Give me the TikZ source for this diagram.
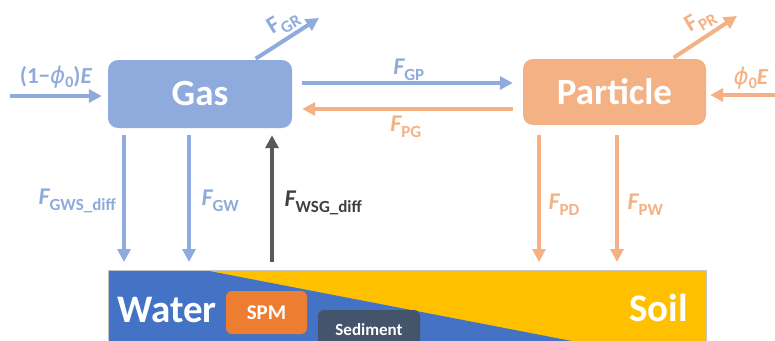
\documentclass[tikz,border=0pt]{standalone}
\usepackage{fontspec}
\setmainfont{Carlito}
\newfontfamily\phifont{DejaVu Sans}
\usetikzlibrary{arrows.meta,calc}

\definecolor{gasblue}{HTML}{8FAADC}
\definecolor{partorange}{HTML}{F4B183}
\definecolor{darkflux}{HTML}{595959}
\definecolor{darklabel}{HTML}{404040}
\definecolor{waterblue}{HTML}{4472C4}
\definecolor{soilyellow}{HTML}{FFC000}
\definecolor{spmorange}{HTML}{ED7D31}
\definecolor{sedslate}{HTML}{44546A}

% flux label: italic F with a lowered upright subscript
\newcommand\flx[3][\itshape]{{\fontsize{24}{26}\selectfont#1 #2}\raisebox{-6pt}{\fontsize{17}{19}\selectfont #3}}
\newcommand\phisym{{\phifont\mdseries\itshape ϕ}}

\tikzset{
  compbox/.style={rectangle, rounded corners=10pt, text=white, font=\bfseries\fontsize{37}{40}\selectfont, inner sep=0pt},
  flow/.style={line width=4pt, -{Triangle[length=13pt,width=13pt]}},
  lbl/.style={font=\bfseries, inner sep=1pt},
}

\begin{document}
\begin{tikzpicture}[x=1pt,y=-1pt]
\useasboundingbox (0,0) rectangle (775,340);
\clip (0,0) rectangle (775,340);

% compartments
\node[compbox, fill=gasblue, minimum width=184pt, minimum height=68pt] (gas) at (200,94) {Gas};
\node[compbox, fill=partorange, minimum width=183pt, minimum height=66pt] (part) at (614.5,92) {Particle};

% surface strip: soil over the whole width, water wedge on the left
\node[fill=soilyellow, minimum width=598pt, minimum height=72pt, inner sep=0pt, outer sep=0pt] (strip) at (407,306) {};
\fill[waterblue] (strip.north west) -- ($(strip.north west)+(96,0)$) -- ($(strip.south west)+(469,0)$) -- (strip.south west) -- cycle;
\draw[gray!45, line width=0.6pt] (strip.south west) rectangle (strip.north east);

\node[anchor=base west, text=white, font=\bfseries\fontsize{39}{41}\selectfont, inner sep=0pt] (water) at (117,322) {Water};
\node[anchor=base east, text=white, font=\bfseries\fontsize{39}{41}\selectfont, inner sep=0pt] (soil) at (688,321) {Soil};
\node[rectangle, rounded corners=6pt, fill=spmorange, text=white, font=\bfseries\fontsize{21}{23}\selectfont, minimum width=81pt, minimum height=43pt, inner sep=0pt] (spm) at (266.5,312.5) {SPM};
\node[rectangle, rounded corners=6pt, fill=sedslate, text=white, font=\bfseries\fontsize{17}{19}\selectfont, minimum width=102pt, minimum height=40pt, inner sep=0pt] (sed) at (369,330) {Sediment};

% x and y positions of the fluxes
\coordinate (xgws) at (124,0);
\coordinate (xgw)  at (189,0);
\coordinate (xwsg) at (272,0);
\coordinate (xpd)  at (539,0);
\coordinate (xpw)  at (617,0);
\coordinate (xgr)  at (254,0);
\coordinate (xpr)  at (672,0);
\coordinate (ygp)  at (0,83);
\coordinate (ypg)  at (0,109);
\coordinate (ein)  at (10,96);
\coordinate (pin)  at (777,95);
\coordinate (gr)   at (319,18);
\coordinate (pr)   at (737,16);

% emissions
\draw[flow, gasblue, shorten >=6pt] (ein) -- (gas.west |- ein);
\draw[flow, partorange, shorten >=4pt] (pin) -- (part.east |- pin);

% removal
\draw[flow, gasblue, shorten <=2pt] (gas.north -| xgr) -- (gr);
\draw[flow, partorange, shorten <=2pt] (part.north -| xpr) -- (pr);

% gas <-> particle partitioning
\draw[flow, gasblue, shorten <=10pt, shorten >=10pt] (gas.east |- ygp) -- (part.west |- ygp);
\draw[flow, partorange, shorten <=10pt, shorten >=10pt] (part.west |- ypg) -- (gas.east |- ypg);

% exchange with the surface
\draw[flow, gasblue, shorten <=7pt, shorten >=8pt] (gas.south -| xgws) -- (strip.north -| xgws);
\draw[flow, gasblue, shorten <=7pt, shorten >=8pt] (gas.south -| xgw) -- (strip.north -| xgw);
\draw[flow, darkflux, shorten <=8pt, shorten >=7pt] (strip.north -| xwsg) -- (gas.south -| xwsg);
\draw[flow, partorange, shorten <=10pt, shorten >=8pt] (part.south -| xpd) -- (strip.north -| xpd);
\draw[flow, partorange, shorten <=10pt, shorten >=8pt] (part.south -| xpw) -- (strip.north -| xpw);

% labels
\node[lbl, text=gasblue, font=\bfseries\fontsize{23}{25}\selectfont] (le) at (56,77) {(1−\phisym\raisebox{-4pt}{\fontsize{16}{18}\selectfont 0})\textit{E}};
\node[lbl, text=partorange, font=\bfseries\fontsize{23}{25}\selectfont] (lpe) at (751,78) {\phisym\raisebox{-4pt}{\fontsize{16}{18}\selectfont 0}\textit{E}};
\node[lbl, text=gasblue, rotate=31] (lgr) at (281,24) {\flx[\upshape]{F}{GR}};
\node[lbl, text=partorange, rotate=31] (lpr) at (698,22) {\flx[\upshape]{F}{PR}};
\node[lbl, text=gasblue] (lgp) at (406,70) {\flx{F}{GP}};
\node[lbl, text=partorange] (lpg) at (403,127) {\flx{F}{PG}};
\node[lbl, text=gasblue, anchor=east] (lgws) at (117,201) {\flx{F}{GWS\_diff}};
\node[lbl, text=gasblue, anchor=west] (lgw) at (195,201) {\flx{F}{GW}};
\node[lbl, text=darklabel, anchor=west] (lwsg) at (278,203) {\flx{F}{WSG\_diff}};
\node[lbl, text=partorange, anchor=west] (lpd) at (542,205) {\flx{F}{PD}};
\node[lbl, text=partorange, anchor=west] (lpw) at (621,205) {\flx{F}{PW}};
\end{tikzpicture}
\end{document}
